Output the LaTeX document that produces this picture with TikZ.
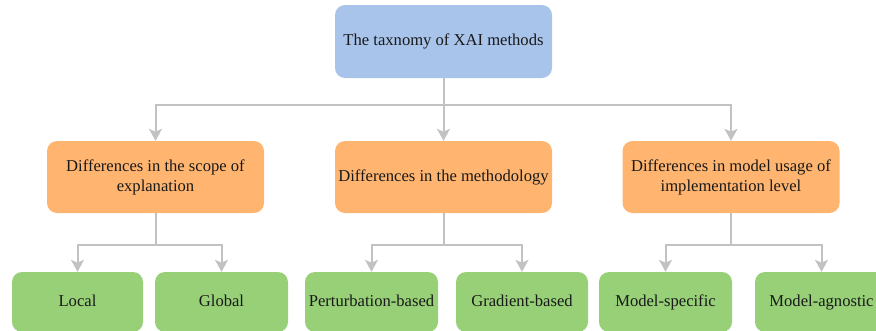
\documentclass[tikz,border=0pt]{standalone}
\usepackage{fontspec}
\setmainfont{Liberation Serif}
\usetikzlibrary{arrows.meta}
\definecolor{topblue}{HTML}{A9C4EB}
\definecolor{midorange}{HTML}{FFB570}
\definecolor{leafgreen}{HTML}{97D077}
\definecolor{linegray}{HTML}{C2C2C2}
\begin{document}
\begin{tikzpicture}[x=1pt,y=-1pt,
  box/.style={rounded corners=10pt, inner sep=0pt, align=center,
    font=\fontsize{16.6}{20}\selectfont, text=black!90},
  topbox/.style={box, fill=topblue, minimum width=217pt, minimum height=73pt},
  midbox/.style={box, fill=midorange, minimum width=217pt, minimum height=72pt},
  leafbox/.style={box, fill=leafgreen, minimum width=133pt, minimum height=60pt,
    text height=12pt, text depth=4pt},
  conn/.style={draw=linegray, line width=2pt,
    -{Stealth[length=12pt,width=13pt,inset=3pt]}}]
\useasboundingbox (0,0) rectangle (876,330);
\node[topbox] (top) at (443.5,41.5) {The taxnomy of XAI methods};
\node[midbox] (o1) at (155.5,177) {Differences in the scope of\\explanation};
\node[midbox] (o2) at (443.5,177) {Differences in the methodology};
\node[midbox] (o3) at (731,177) {Differences in model usage of\\implementation level};
\node[leafbox, minimum width=131pt] (l1) at (77.5,302) {Local};
\node[leafbox] (l2) at (221.5,302) {Global};
\node[leafbox] (l3) at (371.5,302) {Perturbation-based};
\node[leafbox, minimum width=132pt] (l4) at (522,302) {Gradient-based};
\node[leafbox] (l5) at (665.5,302) {Model-specific};
\node[leafbox] (l6) at (821.5,302) {Model-agnostic};
\coordinate (b0) at (443.5,105);
\coordinate (b1) at (155.5,245);
\coordinate (b2) at (443.5,245);
\coordinate (b3) at (731,245);
\draw[conn] (top.south) -- (b0) -| (o1.north);
\draw[conn] (top.south) -- (o2.north);
\draw[conn] (top.south) -- (b0) -| (o3.north);
\draw[conn] (o1.south) -- (b1) -| (l1.north);
\draw[conn] (o1.south) -- (b1) -| (l2.north);
\draw[conn] (o2.south) -- (b2) -| (l3.north);
\draw[conn] (o2.south) -- (b2) -| (l4.north);
\draw[conn] (o3.south) -- (b3) -| (l5.north);
\draw[conn] (o3.south) -- (b3) -| (l6.north);
\end{tikzpicture}
\end{document}
